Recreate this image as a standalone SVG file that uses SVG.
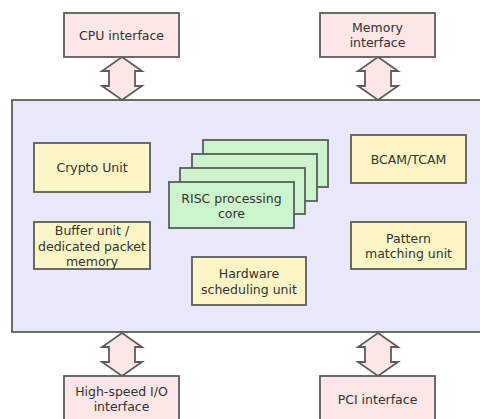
<svg xmlns="http://www.w3.org/2000/svg" width="480" height="419" viewBox="0 0 480 419">
  <style>
    .iface { fill: #fde6e6; stroke: #5c5c5c; stroke-width: 1.8; }
    .unit { fill: #fbf6c4; stroke: #5c5c5c; stroke-width: 1.8; }
    .core { fill: #cdf5cd; stroke: #5c5c5c; stroke-width: 1.8; }
    .chip { fill: #e8e8fb; stroke: #5c5c5c; stroke-width: 1.8; }
    .bus { fill: #fde6e6; stroke: #5c5c5c; stroke-width: 1.8; stroke-linejoin: miter; }
    text { font-family: "DejaVu Sans", Verdana, sans-serif; font-size: 12.5px; fill: #333; text-anchor: middle; }
  </style>
  <defs>
    <!-- double-headed block arrow, centred on x=0, spanning y=0..43 -->
    <path id="busArrow" d="M0,0 L20,14 L13,14 L13,29 L20,29 L0,43 L-20,29 L-13,29 L-13,14 L-20,14 Z"/>
  </defs>

  <!-- processor chip outline -->
  <g id="chip">
    <rect class="chip" x="12" y="100" width="470" height="232"/>
  </g>

  <!-- bus arrows -->
  <g id="connectors">
    <use href="#busArrow" class="bus" x="122" y="57"/>
    <use href="#busArrow" class="bus" x="378" y="57"/>
    <use href="#busArrow" class="bus" x="122" y="333"/>
    <use href="#busArrow" class="bus" x="378" y="333"/>
  </g>

  <g id="cpu-interface">
    <rect class="iface" x="64" y="13" width="115" height="44"/>
    <text x="121.5" y="40">CPU interface</text>
  </g>
  <g id="memory-interface">
    <rect class="iface" x="320" y="13" width="115" height="44"/>
    <text x="377.5" y="32">Memory</text>
    <text x="377.5" y="47">interface</text>
  </g>

  <g id="crypto-unit">
    <rect class="unit" x="34" y="143" width="116" height="49"/>
    <text x="92" y="172">Crypto Unit</text>
  </g>
  <g id="buffer-unit">
    <rect class="unit" x="34" y="222" width="116" height="47"/>
    <text x="92" y="235">Buffer unit /</text>
    <text x="92" y="251">dedicated packet</text>
    <text x="92" y="266">memory</text>
  </g>

  <g id="risc-core">
    <rect class="core" x="203" y="140" width="125" height="47"/>
    <rect class="core" x="192" y="154" width="125" height="47"/>
    <rect class="core" x="180" y="168" width="125" height="46"/>
    <rect class="core" x="169" y="182" width="125" height="46"/>
    <text x="231.5" y="203">RISC processing</text>
    <text x="231.5" y="218">core</text>
  </g>

  <g id="hw-scheduler">
    <rect class="unit" x="192" y="257" width="114" height="48"/>
    <text x="249" y="278">Hardware</text>
    <text x="249" y="294">scheduling unit</text>
  </g>

  <g id="bcam-tcam">
    <rect class="unit" x="351" y="135" width="115" height="48"/>
    <text x="408.5" y="164">BCAM/TCAM</text>
  </g>
  <g id="pattern-matching">
    <rect class="unit" x="351" y="222" width="115" height="47"/>
    <text x="408.5" y="243">Pattern</text>
    <text x="408.5" y="258">matching unit</text>
  </g>

  <g id="io-interface">
    <rect class="iface" x="64" y="376" width="115" height="46"/>
    <text x="121.5" y="396">High-speed I/O</text>
    <text x="121.5" y="411">interface</text>
  </g>
  <g id="pci-interface">
    <rect class="iface" x="320" y="376" width="115" height="46"/>
    <text x="377.5" y="404">PCI interface</text>
  </g>
</svg>
